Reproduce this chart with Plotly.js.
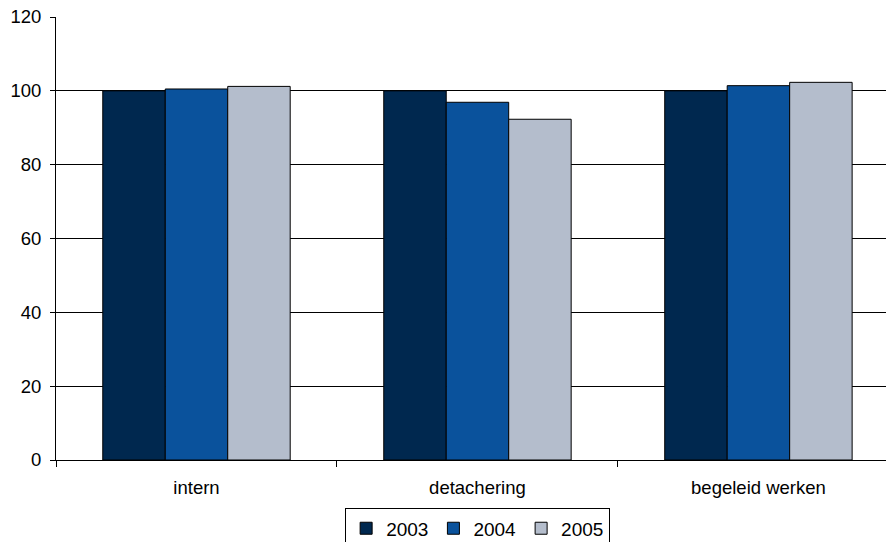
<!DOCTYPE html>
<html>
<head>
<meta charset="utf-8">
<script src="https://cdn.plot.ly/plotly-3.0.1.min.js"></script>
<style>html,body{margin:0;padding:0;background:#fff;}#chart{width:886px;height:542px;}</style>
</head>
<body>
<div id="chart"></div>
<script>
const categories = ["intern", "detachering", "begeleid werken"];
const seriesNames = ["2003", "2004", "2005"];
const values2003 = [100, 100, 100];
const values2004 = [100.5, 96.9, 101.4];
const values2005 = [101.2, 92.3, 102.3];
const colors = ["#00284F", "#0A529C", "#B4BDCC"];
const allValues = [values2003, values2004, values2005];

const traces = allValues.map((v, i) => ({
  type: "bar",
  name: seriesNames[i],
  x: categories,
  y: v,
  marker: {color: colors[i], line: {color: "#000", width: 1}}
}));

const layout = {
  width: 886, height: 542,
  margin: {l: 56, r: 0, t: 17, b: 82},
  paper_bgcolor: "#fff", plot_bgcolor: "#fff",
  font: {family: "Liberation Sans, Arial, sans-serif", size: 18.5, color: "#000"},
  barmode: "group", bargap: 0.333, bargroupgap: 0,
  xaxis: {
    type: "category",
    range: [-0.5, 2.454],
    tickson: "boundaries",
    ticks: "outside", ticklen: 6, tickcolor: "#000",
    showline: true, linecolor: "#000", linewidth: 1,
    showgrid: false, zeroline: false,
    tickfont: {size: 18.5},
    ticklabelstandoff: 11
  },
  yaxis: {
    range: [0, 120], dtick: 20,
    ticks: "outside", ticklen: 5, tickcolor: "#000",
    showline: true, linecolor: "#000", linewidth: 1,
    showgrid: true, gridcolor: "#000", gridwidth: 1,
    zeroline: false,
    tickfont: {size: 18.5},
    ticklabelstandoff: 5
  },
  showlegend: true,
  legend: {
    orientation: "h", x: 0.508, xanchor: "center",
    yref: "container", y: 0.062, yanchor: "top",
    bordercolor: "#000", borderwidth: 1,
    font: {size: 19}, itemwidth: 30,
    tracegroupgap: 0
  }
};

Plotly.newPlot("chart", traces, layout, {displayModeBar: false, staticPlot: true});
</script>
</body>
</html>
